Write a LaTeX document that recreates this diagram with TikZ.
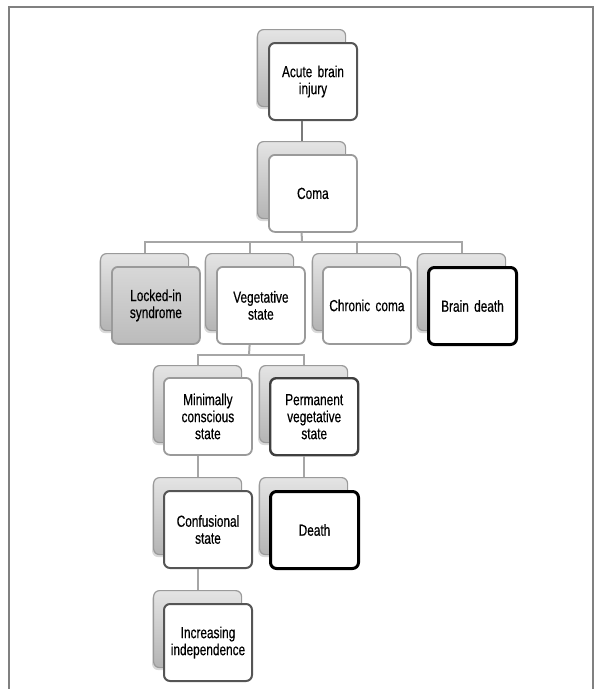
\documentclass[tikz,border=0pt]{standalone}
\usepackage{fontspec}
\setmainfont{Liberation Sans}[FakeStretch=0.74,FakeBold=0.5,WordSpace=0.7]
\usetikzlibrary{shadows}
\definecolor{framec}{HTML}{808080}
\definecolor{linec}{HTML}{A6A6A6}
\definecolor{linedark}{HTML}{7A7A7A}
\definecolor{backtop}{HTML}{E4E4E4}
\definecolor{backbot}{HTML}{B4B4B4}
\definecolor{backdraw}{HTML}{9A9A9A}
\definecolor{bdark}{HTML}{555555}
\definecolor{bdarker}{HTML}{3F3F3F}
\definecolor{blight}{HTML}{9A9A9A}
\definecolor{locktop}{HTML}{D8D8D8}
\definecolor{lockbot}{HTML}{BBBBBB}
\begin{document}
\begin{tikzpicture}[x=1pt,y=-1pt,
  backbox/.style={draw=backdraw, line width=1.2pt, rounded corners=6pt,
    top color=backtop, bottom color=backbot,
    minimum width=88pt, minimum height=77pt, inner sep=0pt, anchor=north west,
    drop shadow={shadow xshift=-1.5pt, shadow yshift=-2.5pt, opacity=0.3}},
  frontbox/.style={rounded corners=6pt, fill=white,
    minimum width=88pt, minimum height=77pt, inner sep=2pt, anchor=north west,
    text width=82pt, align=center, font=\fontsize{16}{17}\selectfont},
  fdark/.style={frontbox, draw=bdark, line width=2pt},
  fdarker/.style={frontbox, draw=bdarker, line width=2.4pt},
  flight/.style={frontbox, draw=blight, line width=1.8pt},
  fblack/.style={frontbox, draw=black, line width=3pt},
  flock/.style={frontbox, draw=blight, line width=1.8pt, top color=locktop, bottom color=lockbot},
  conn/.style={draw=linec, line width=2pt},
  conndark/.style={draw=linedark, line width=2pt}
]
\useasboundingbox (0,0) rectangle (595,689);
% outer frame
\draw[framec, line width=1.5pt] (9,689) -- (9,7) -- (593,7) -- (593,689);

% back boxes
\node[backbox] (bA) at (257,29) {};
\node[backbox] (bB) at (257,141) {};
\node[backbox] (bL) at (100,253) {};
\node[backbox] (bV) at (205,253) {};
\node[backbox] (bC) at (312,253) {};
\node[backbox] (bD) at (417,253) {};
\node[backbox] (bM) at (153,365) {};
\node[backbox] (bP) at (259,365) {};
\node[backbox] (bF) at (153,477) {};
\node[backbox] (bX) at (259,477) {};
\node[backbox] (bI) at (153,590) {};

% front boxes
\node[fdark]  (fA) at (268,42) {Acute brain\\injury};
\node[flight] (fB) at (268,154) {Coma};
\node[flock]  (fL) at (111,266) {Locked-in\\syndrome};
\node[flight] (fV) at (216,266) {Vegetative\\state};
\node[flight] (fC) at (322,266) {Chronic coma};
\node[fblack] (fD) at (427,266) {Brain death};
\node[flight] (fM) at (163,377) {Minimally\\conscious\\state};
\node[fdarker] (fP) at (269,377) {Permanent\\vegetative\\state};
\node[fdark]  (fF) at (163,490) {Confusional\\state};
\node[fblack] (fX) at (269,490) {Death};
\node[fdark]  (fI) at (163,603) {Increasing\\independence};

% connectors
\draw[conndark] (bB.north |- fA.south) -- (bB.north);
\coordinate (h1) at (302,242);
\draw[conn] (bB.north |- fB.south) -- (h1);
\draw[conn] (bL.north) -- (bL.north |- h1) -- (bD.north |- h1) -- (bD.north);
\draw[conn] (bV.north |- h1) -- (bV.north);
\draw[conn] (bC.north |- h1) -- (bC.north);
\coordinate (h2) at (249,355);
\draw[conn] (bV.north |- fV.south) -- (h2);
\draw[conn] (bM.north) -- (bM.north |- h2) -- (bP.north |- h2) -- (bP.north);
\draw[conn] (bM.north |- fM.south) -- (bF.north);
\draw[conn] (bP.north |- fP.south) -- (bX.north);
\draw[conn] (bF.north |- fF.south) -- (bI.north);
\end{tikzpicture}
\end{document}
